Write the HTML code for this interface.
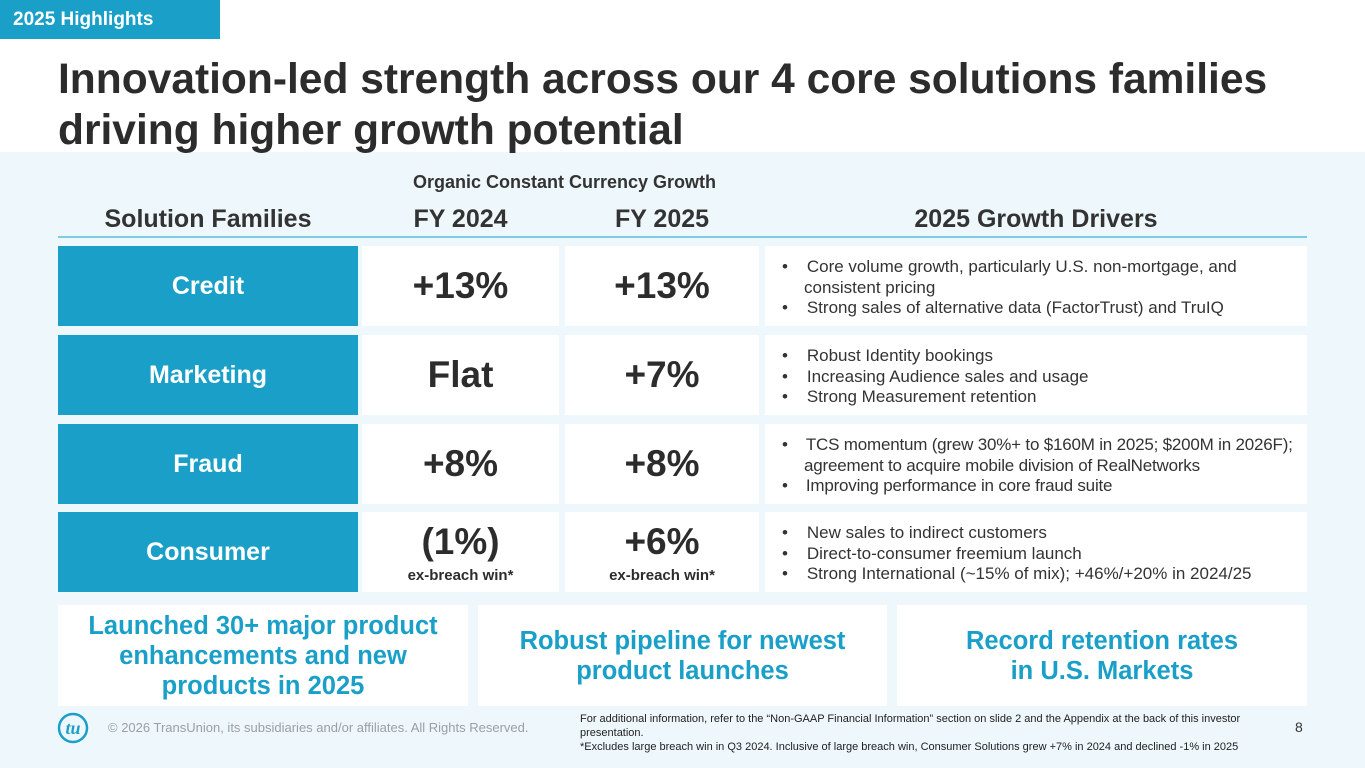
<!DOCTYPE html>
<html><head><meta charset="utf-8"><style>
*{margin:0;padding:0;box-sizing:border-box}
body{width:1365px;height:768px;position:relative;overflow:hidden;background:#fff;font-family:"Liberation Sans",sans-serif;color:#333}
.a{position:absolute}
.bg{left:0;top:152px;width:1365px;height:616px;background:#eef7fc}
.tag{left:0;top:0;width:220px;height:39px;background:#1aa0c8;color:#fff;font-weight:bold;font-size:19px;line-height:39px;padding-left:13px}
h1{position:absolute;left:58px;top:54px;font-size:42.5px;line-height:51px;font-weight:bold;color:#2c2c2c;white-space:nowrap}
.hd{font-weight:bold;font-size:25px;text-align:center;top:205px}
.lab{left:58px;width:300px;height:80px;background:#1aa0c8;color:#fff;font-weight:bold;font-size:25px;display:flex;align-items:center;justify-content:center}
.v{background:#fff;height:80px;display:flex;flex-direction:column;align-items:center;justify-content:center;font-weight:bold;font-size:37px;color:#2c2c2c}
.v small{font-size:15px;margin-top:4px}
.dr{left:765px;width:542px;height:80px;background:#fff;font-size:17px;line-height:20.5px;padding:11px 0 0 17px;color:#333;white-space:nowrap}
.dr div{padding-left:22px;text-indent:-22px}
.bb{background:#fff;top:605px;height:101px;color:#1aa0c8;font-weight:bold;font-size:25.5px;line-height:30px;display:flex;align-items:center;justify-content:center;text-align:center}
</style></head><body>
<div class="a bg"></div>
<div class="a tag">2025 Highlights</div>
<h1>Innovation-led strength across our 4 core solutions families<br>driving higher growth potential</h1>
<div class="a" style="left:362px;top:172px;width:405px;text-align:center;font-weight:bold;font-size:18px">Organic Constant Currency Growth</div>
<div class="a hd" style="left:58px;width:300px">Solution Families</div>
<div class="a hd" style="left:362px;width:197px">FY 2024</div>
<div class="a hd" style="left:565px;width:194px">FY 2025</div>
<div class="a hd" style="left:765px;width:542px">2025 Growth Drivers</div>
<div class="a" style="left:58px;top:236px;width:1249px;height:2px;background:#7fcbe3"></div>

<div class="a lab" style="top:246px">Credit</div>
<div class="a v" style="left:362px;width:197px;top:246px">+13%</div>
<div class="a v" style="left:565px;width:194px;top:246px">+13%</div>
<div class="a dr" style="top:246px"><div>•&nbsp;&nbsp;&nbsp;&nbsp;Core volume growth, particularly U.S. non-mortgage, and<br>consistent pricing</div><div>•&nbsp;&nbsp;&nbsp;&nbsp;Strong sales of alternative data (FactorTrust) and TruIQ</div></div>

<div class="a lab" style="top:335px">Marketing</div>
<div class="a v" style="left:362px;width:197px;top:335px">Flat</div>
<div class="a v" style="left:565px;width:194px;top:335px">+7%</div>
<div class="a dr" style="top:335px"><div>•&nbsp;&nbsp;&nbsp;&nbsp;Robust Identity bookings</div><div>•&nbsp;&nbsp;&nbsp;&nbsp;Increasing Audience sales and usage</div><div>•&nbsp;&nbsp;&nbsp;&nbsp;Strong Measurement retention</div></div>

<div class="a lab" style="top:424px">Fraud</div>
<div class="a v" style="left:362px;width:197px;top:424px">+8%</div>
<div class="a v" style="left:565px;width:194px;top:424px">+8%</div>
<div class="a dr" style="top:424px;letter-spacing:-0.2px"><div>•&nbsp;&nbsp;&nbsp;&nbsp;TCS momentum (grew 30%+ to $160M in 2025; $200M in 2026F);<br>agreement to acquire mobile division of RealNetworks</div><div>•&nbsp;&nbsp;&nbsp;&nbsp;Improving performance in core fraud suite</div></div>

<div class="a lab" style="top:512px">Consumer</div>
<div class="a v" style="left:362px;width:197px;top:512px">(1%)<small>ex-breach win*</small></div>
<div class="a v" style="left:565px;width:194px;top:512px">+6%<small>ex-breach win*</small></div>
<div class="a dr" style="top:512px"><div>•&nbsp;&nbsp;&nbsp;&nbsp;New sales to indirect customers</div><div>•&nbsp;&nbsp;&nbsp;&nbsp;Direct-to-consumer freemium launch</div><div>•&nbsp;&nbsp;&nbsp;&nbsp;Strong International (~15% of mix); +46%/+20% in 2024/25</div></div>

<div class="a bb" style="left:58px;width:410px">Launched 30+ major product<br>enhancements and new<br>products in 2025</div>
<div class="a bb" style="left:478px;width:409px">Robust pipeline for newest<br>product launches</div>
<div class="a bb" style="left:897px;width:410px">Record retention rates<br>in U.S. Markets</div>

<svg class="a" style="left:57px;top:711px" width="32" height="34"><circle cx="16" cy="17" r="14" fill="none" stroke="#1aa0c8" stroke-width="2.5"/><text x="16" y="23" text-anchor="middle" font-family="Liberation Serif" font-style="italic" font-weight="bold" font-size="18" fill="#1aa0c8">tu</text></svg>
<div class="a" style="left:108px;top:720px;font-size:13px;color:#9aa0a4">© 2026 TransUnion, its subsidiaries and/or affiliates. All Rights Reserved.</div>
<div class="a" style="left:580px;top:712px;width:700px;font-size:11px;line-height:14px;color:#222">For additional information, refer to the “Non-GAAP Financial Information” section on slide 2 and the Appendix at the back of this investor presentation.<br>*Excludes large breach win in Q3 2024. Inclusive of large breach win, Consumer Solutions grew +7% in 2024 and declined -1% in 2025</div>
<div class="a" style="left:1295px;top:719px;font-size:14px;color:#333">8</div>
</body></html>
